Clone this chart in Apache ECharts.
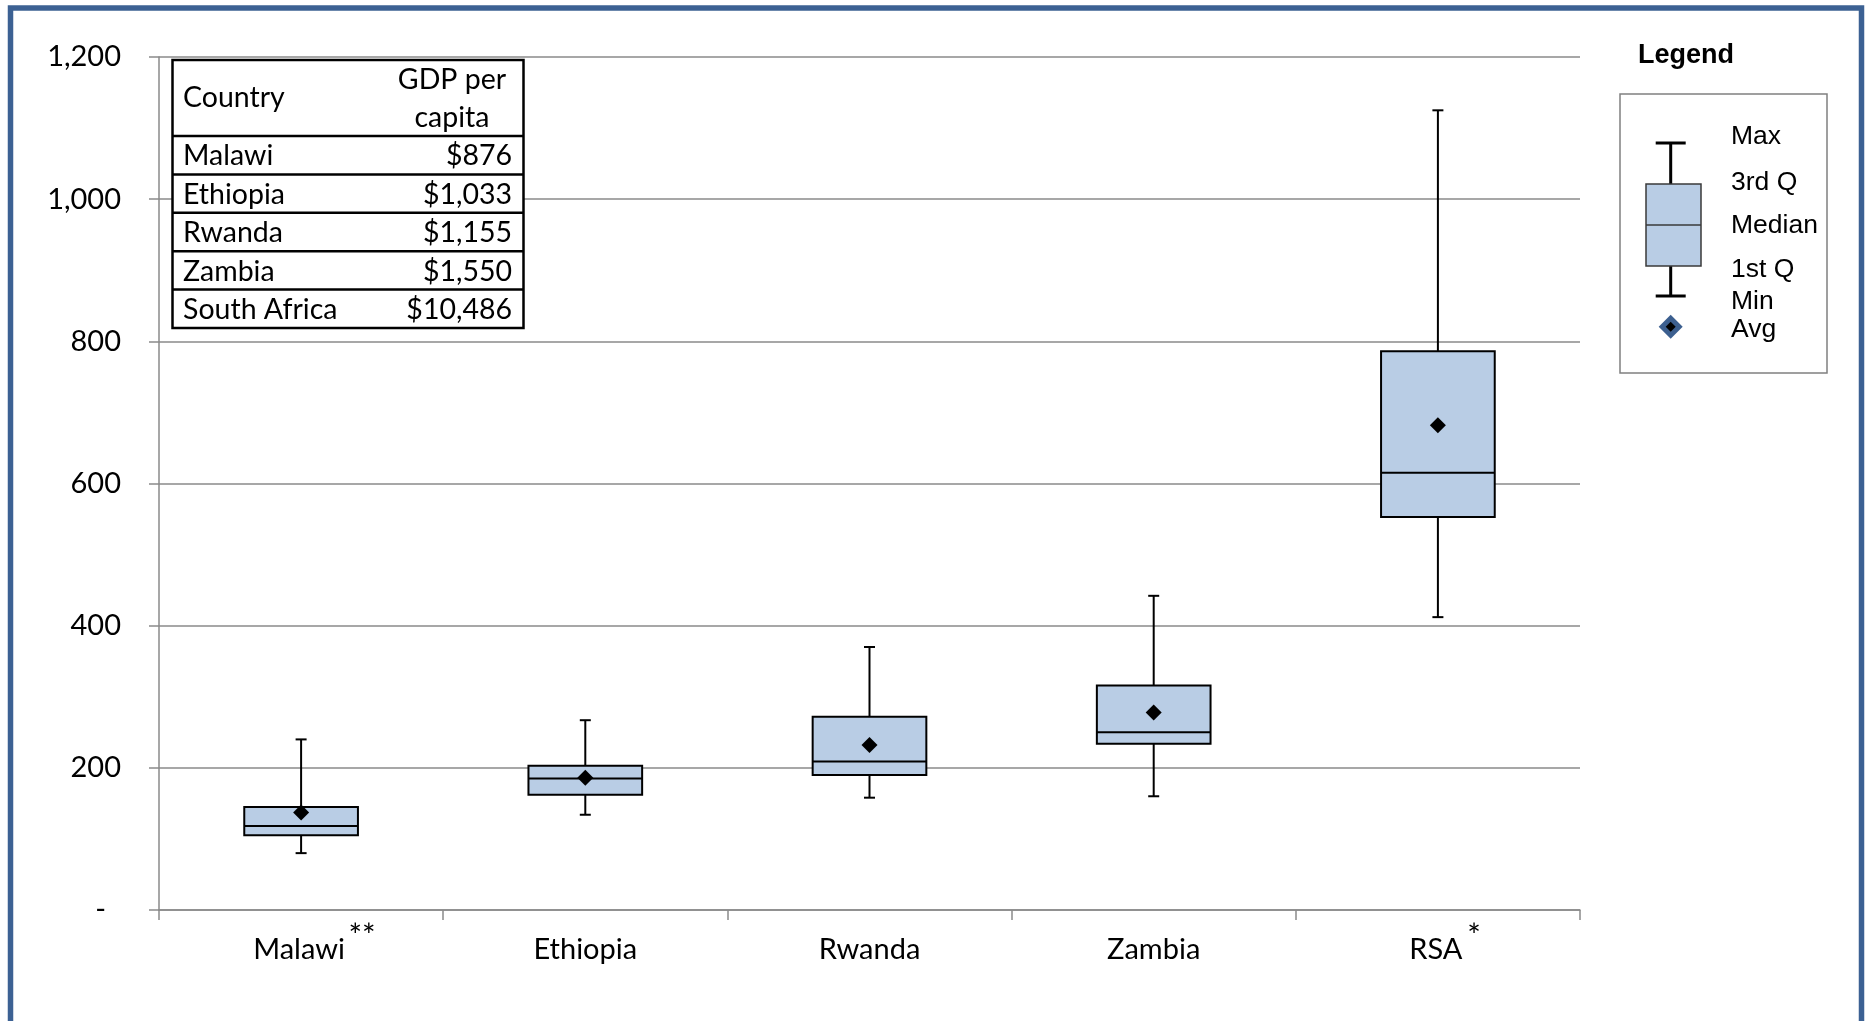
<!DOCTYPE html>
<html>
<head>
<meta charset="utf-8">
<script src="https://cdn.jsdelivr.net/npm/echarts@6/dist/echarts.min.js"></script>
<style>
  html, body { margin: 0; padding: 0; background: #ffffff; }
  #chart { width: 1865px; height: 1021px; }
</style>
</head>
<body>
<div id="chart"></div>
<script>
// Daily consumption distribution by country (min / quartiles / max / average)
const countries   = ['Malawi', 'Ethiopia', 'Rwanda', 'Zambia', 'RSA'];
const footnotes   = ['**', '', '', '', '*'];
const minVals     = [80, 134, 158, 160, 412];
const q1Vals      = [105, 162, 190, 234, 553];
const medianVals  = [118, 185, 209, 250, 615];
const q3Vals      = [145, 203, 272, 316, 786];
const maxVals     = [240, 267, 370, 442, 1125];
const avgVals     = [137, 186, 232, 278, 682];
const yTickLabels = ['-', '200', '400', '600', '800', '1,000', '1,200'];

// Inset table: GDP per capita
const tableCountries = ['Malawi', 'Ethiopia', 'Rwanda', 'Zambia', 'South Africa'];
const tableGdp       = ['$876', '$1,033', '$1,155', '$1,550', '$10,486'];

// Legend key labels
const legendLabels = ['Max', '3rd Q', 'Median', '1st Q', 'Min', 'Avg'];

const FONT = 'Lato, "Open Sans", "DejaVu Sans", sans-serif';
const ARIAL = '"Liberation Sans", Arial, sans-serif';
const BOX_FILL = '#B9CDE5';
const GRID_GRAY = '#8a8a8a';
const STAR_W = 11;   // advance of one footnote star
const STAR_GAP = 4;  // space between a name and its stars

const boxData = countries.map((c, i) =>
  [i, minVals[i], q1Vals[i], medianVals[i], q3Vals[i], maxVals[i]]);
const avgData = countries.map((c, i) => [i, avgVals[i]]);

function renderBox(params, api) {
  const x = api.value(0);
  const lo = api.coord([x, api.value(1)]);
  const q1 = api.coord([x, api.value(2)]);
  const md = api.coord([x, api.value(3)]);
  const q3 = api.coord([x, api.value(4)]);
  const hi = api.coord([x, api.value(5)]);
  const band = api.size([1, 0])[0];
  const bw = band * 0.4;
  const cx = lo[0];
  const cap = 5.5;
  const line = { stroke: '#000', lineWidth: 2 };
  return {
    type: 'group',
    children: [
      { type: 'line', shape: { x1: cx, y1: q3[1], x2: cx, y2: hi[1] }, style: line },
      { type: 'line', shape: { x1: cx, y1: q1[1], x2: cx, y2: lo[1] }, style: line },
      { type: 'line', shape: { x1: cx - cap, y1: hi[1], x2: cx + cap, y2: hi[1] }, style: line },
      { type: 'line', shape: { x1: cx - cap, y1: lo[1], x2: cx + cap, y2: lo[1] }, style: line },
      { type: 'rect', shape: { x: cx - bw / 2, y: q3[1], width: bw, height: q1[1] - q3[1] },
        style: { fill: BOX_FILL, stroke: '#000', lineWidth: 2 } },
      { type: 'line', shape: { x1: cx - bw / 2, y1: md[1], x2: cx + bw / 2, y2: md[1] }, style: line }
    ]
  };
}

// Rich styles for category labels: name (padded so it stays centred) + raised footnote stars
const labelRich = {
  n: { fontFamily: FONT, fontSize: 29, color: '#000', lineHeight: 58 }
};
footnotes.forEach(f => {
  const k = f.length;
  if (k && !labelRich['p' + k]) {
    const w = STAR_W * k + STAR_GAP;
    labelRich['p' + k] = { fontFamily: FONT, fontSize: 29, color: '#000', lineHeight: 58,
      padding: [0, 0, 0, w] };
    labelRich['s' + k] = { fontFamily: FONT, fontSize: 32, color: '#000', lineHeight: 6,
      verticalAlign: 'top', width: w, padding: [0, 0, 0, STAR_GAP] };
  }
});

// Inset table graphics
function buildTable() {
  const left = 172.5, right = 523.5, top = 60, headBottom = 136, rowH = 38.4;
  const els = [];
  const bottom = headBottom + rowH * tableCountries.length;
  els.push({ type: 'rect', shape: { x: left, y: top, width: right - left, height: bottom - top },
    style: { fill: '#fff', stroke: '#000', lineWidth: 2.5 }, z: 10 });
  els.push({ type: 'line', shape: { x1: left, y1: headBottom, x2: right, y2: headBottom },
    style: { stroke: '#000', lineWidth: 2.5 }, z: 11 });
  const txt = (x, y, text, align) => ({
    type: 'text', x: x, y: y, z: 12,
    style: { text: text, font: '28.5px ' + FONT, fill: '#000', align: align, verticalAlign: 'middle' }
  });
  els.push(txt(183, 98, 'Country', 'left'));
  els.push(txt(452, 80, 'GDP per', 'center'));
  els.push(txt(452, 118, 'capita', 'center'));
  tableCountries.forEach((c, i) => {
    const y0 = headBottom + rowH * i;
    if (i > 0) {
      els.push({ type: 'line', shape: { x1: left, y1: y0, x2: right, y2: y0 },
        style: { stroke: '#000', lineWidth: 2.5 }, z: 11 });
    }
    els.push(txt(183, y0 + rowH / 2 + 1, c, 'left'));
    els.push(txt(512, y0 + rowH / 2 + 1, tableGdp[i], 'right'));
  });
  return els;
}

// Legend key panel
function buildLegend() {
  const cx = 1670.7;
  const els = [];
  els.push({ type: 'text', x: 1638, y: 56, z: 10,
    style: { text: 'Legend', font: 'bold 27px ' + ARIAL, fill: '#000', verticalAlign: 'middle' } });
  els.push({ type: 'rect', shape: { x: 1620, y: 94, width: 207, height: 279 },
    style: { fill: '#fff', stroke: '#808080', lineWidth: 1.5 }, z: 10 });
  const w = { stroke: '#000', lineWidth: 3 };
  els.push({ type: 'line', shape: { x1: cx, y1: 143, x2: cx, y2: 184 }, style: w, z: 11 });
  els.push({ type: 'line', shape: { x1: cx, y1: 266, x2: cx, y2: 296 }, style: w, z: 11 });
  els.push({ type: 'line', shape: { x1: cx - 15, y1: 143, x2: cx + 15, y2: 143 }, style: w, z: 11 });
  els.push({ type: 'line', shape: { x1: cx - 15, y1: 296, x2: cx + 15, y2: 296 }, style: w, z: 11 });
  els.push({ type: 'rect', shape: { x: 1646, y: 184, width: 55, height: 82 },
    style: { fill: BOX_FILL, stroke: '#3a3a3a', lineWidth: 1.5 }, z: 11 });
  els.push({ type: 'line', shape: { x1: 1646, y1: 225, x2: 1701, y2: 225 },
    style: { stroke: '#3a3a3a', lineWidth: 1.5 }, z: 12 });
  els.push({ type: 'polygon', shape: { points: [[cx, 314.7], [cx + 12, 326.7], [cx, 338.7], [cx - 12, 326.7]] },
    style: { fill: '#3C5F8F' }, z: 11 });
  els.push({ type: 'polygon', shape: { points: [[cx, 321.7], [cx + 5, 326.7], [cx, 331.7], [cx - 5, 326.7]] },
    style: { fill: '#000' }, z: 12 });
  const ys = [137, 183, 226, 270, 302, 330];
  legendLabels.forEach((t, i) => {
    els.push({ type: 'text', x: 1731, y: ys[i], z: 12,
      style: { text: t, font: '26.5px ' + ARIAL, fill: '#000', verticalAlign: 'middle' } });
  });
  return els;
}

const frame = {
  type: 'rect', shape: { x: 10.5, y: 8, width: 1851, height: 1100 },
  style: { fill: 'none', stroke: '#3C6193', lineWidth: 5.5 }, z: 20
};

const chart = echarts.init(document.getElementById('chart'), null, { renderer: 'canvas' });
chart.setOption({
  backgroundColor: '#ffffff',
  animation: false,
  grid: { left: 159, right: 285, top: 57, bottom: 111, containLabel: false },
  xAxis: {
    type: 'category',
    data: countries,
    boundaryGap: true,
    axisLine: { show: true, lineStyle: { color: GRID_GRAY, width: 1.5 } },
    axisTick: { show: true, length: 10, alignWithLabel: false, lineStyle: { color: GRID_GRAY, width: 1.5 } },
    splitLine: { show: false },
    axisLabel: {
      margin: 11,
      interval: 0,
      formatter: (v, i) => {
        const k = footnotes[i].length;
        return k ? '{p' + k + '|' + v + '}{s' + k + '|' + footnotes[i] + '}' : '{n|' + v + '}';
      },
      rich: labelRich
    }
  },
  yAxis: {
    type: 'value',
    min: 0, max: 1200, interval: 200,
    axisLine: { show: true, lineStyle: { color: GRID_GRAY, width: 1.5 } },
    axisTick: { show: true, length: 10, lineStyle: { color: GRID_GRAY, width: 1.5 } },
    splitLine: { show: true, lineStyle: { color: GRID_GRAY, width: 1.5 } },
    axisLabel: {
      margin: 38,
      formatter: v => {
        const lbl = yTickLabels[Math.round(v / 200)];
        return v === 0 ? '{z|' + lbl + '}' : lbl;
      },
      fontFamily: FONT, fontSize: 29, color: '#000',
      rich: { z: { fontFamily: FONT, fontSize: 29, color: '#000', padding: [0, 15, 0, 0] } }
    }
  },
  series: [
    {
      type: 'custom',
      name: 'Distribution',
      renderItem: renderBox,
      encode: { x: 0, y: [1, 2, 3, 4, 5] },
      data: boxData,
      z: 3
    },
    {
      type: 'scatter',
      name: 'Avg',
      symbol: 'diamond',
      symbolSize: 16,
      itemStyle: { color: '#000', opacity: 1 },
      data: avgData,
      z: 5
    }
  ],
  graphic: [frame].concat(buildTable(), buildLegend())
});
</script>
</body>
</html>
